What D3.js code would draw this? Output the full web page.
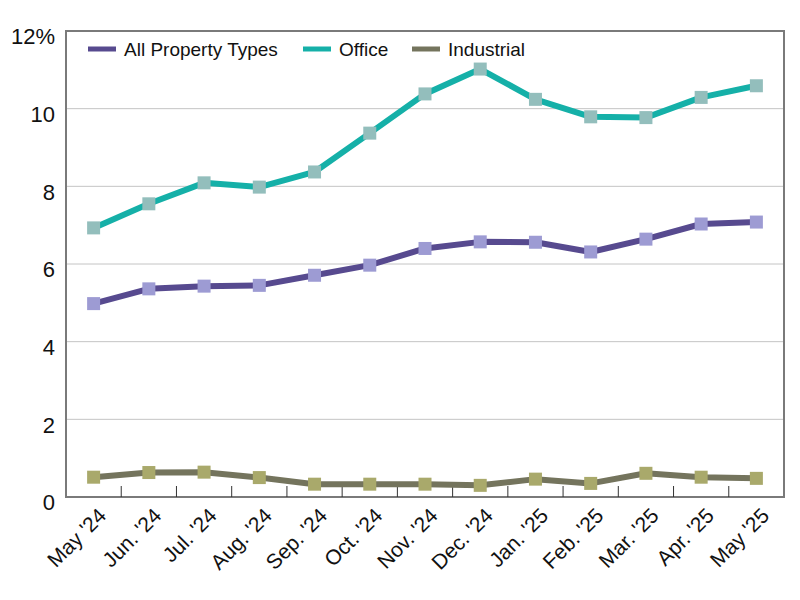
<!DOCTYPE html>
<html><head><meta charset="utf-8">
<script src="https://cdn.jsdelivr.net/npm/d3@7/dist/d3.min.js"></script>
<style>body{margin:0;background:#fff}svg{display:block}text{font-family:"Liberation Sans",Arial,Helvetica,sans-serif}</style>
</head><body><svg id="c" width="800" height="600"></svg>
<script>
const categories = ["May '24","Jun. '24","Jul. '24","Aug. '24","Sep. '24","Oct. '24","Nov. '24","Dec. '24","Jan. '25","Feb. '25","Mar. '25","Apr. '25","May '25"];
const allProperty = [4.98,5.36,5.43,5.45,5.71,5.97,6.40,6.57,6.56,6.31,6.64,7.03,7.08];
const office = [6.93,7.55,8.09,7.98,8.37,9.37,10.38,11.02,10.24,9.79,9.77,10.29,10.59];
const industrial = [0.51,0.63,0.64,0.50,0.33,0.33,0.33,0.30,0.46,0.35,0.61,0.51,0.48];
const yTicks = [0,2,4,6,8,10,12];
const seriesNames = ["All Property Types","Office","Industrial"];

const series = [
  {name:seriesNames[0], values:allProperty, line:"#574a8f", marker:"#9d9bd3"},
  {name:seriesNames[1], values:office, line:"#15b0a8", marker:"#93bebc"},
  {name:seriesNames[2], values:industrial, line:"#74745d", marker:"#a9a96b"}
];

const svg = d3.select("#c");
const L=66, R=784, T=31, B=497;
const x = d3.scaleBand().domain(categories).range([L,R]);
const y = d3.scaleLinear().domain([0,12]).range([B,T]);

// gridlines
svg.append("g").selectAll("line").data(yTicks.filter(d=>d>0&&d<12)).join("line")
  .attr("x1",L).attr("x2",R).attr("y1",d=>y(d)).attr("y2",d=>y(d))
  .attr("stroke","#c4c4c4").attr("stroke-width",1);

// frame
svg.append("rect").attr("x",L).attr("y",T).attr("width",R-L).attr("height",B-T)
  .attr("fill","none").attr("stroke","#7a7a7a").attr("stroke-width",2);

// x ticks (inner boundaries)
svg.append("g").selectAll("line").data(categories.slice(1)).join("line")
  .attr("x1",d=>x(d)).attr("x2",d=>x(d)).attr("y1",B).attr("y2",B-11)
  .attr("stroke","#333").attr("stroke-width",1);

// y labels
svg.append("g").selectAll("text").data(yTicks).join("text")
  .attr("x",55).attr("y",d=>y(d)).attr("dy","0.6em")
  .attr("text-anchor","end").attr("font-size",22).attr("fill","#111")
  .text(d=>d===12?"12%":d);

// x labels
svg.append("g").selectAll("text").data(categories).join("text")
  .attr("transform",d=>`translate(${x(d)+x.bandwidth()/2+14},${B+20}) rotate(-45)`)
  .attr("text-anchor","end").attr("font-size",21).attr("fill","#111")
  .text(d=>d);

// lines & markers
const line = d3.line().x((d,i)=>x(categories[i])+x.bandwidth()/2).y(d=>y(d));
series.forEach(s=>{
  svg.append("path").datum(s.values).attr("d",line)
    .attr("fill","none").attr("stroke",s.line).attr("stroke-width",6).attr("stroke-linejoin","round");
  svg.append("g").selectAll("rect").data(s.values).join("rect")
    .attr("x",(d,i)=>x(categories[i])+x.bandwidth()/2-6.5).attr("y",d=>y(d)-6.5)
    .attr("width",13).attr("height",13).attr("fill",s.marker);
});

// legend
const legX = [88,303,412];
series.forEach((s,i)=>{
  svg.append("line").attr("x1",legX[i]).attr("x2",legX[i]+28).attr("y1",49).attr("y2",49)
    .attr("stroke",s.line).attr("stroke-width",5);
  svg.append("text").attr("x",legX[i]+36).attr("y",49).attr("dy","0.36em")
    .attr("font-size",19).attr("fill","#111").text(s.name);
});
</script></body></html>
